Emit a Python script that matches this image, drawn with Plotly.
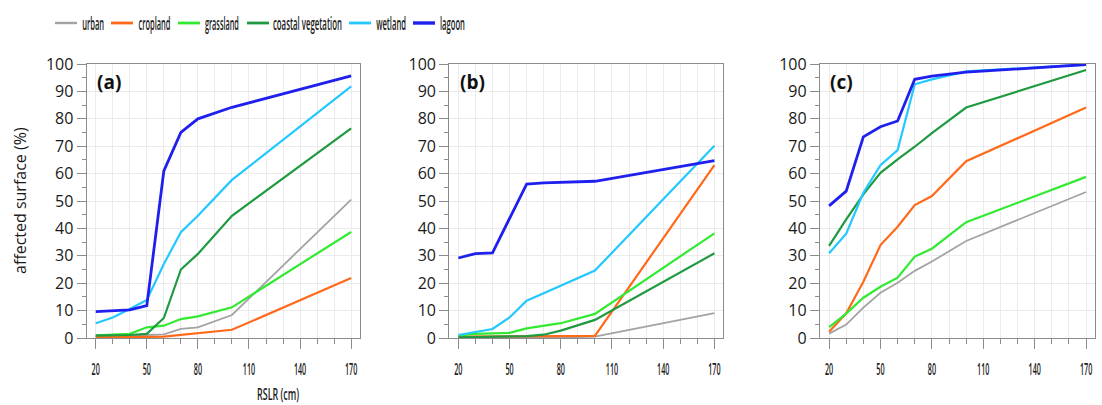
import json
import plotly.graph_objects as go

# RSLR scenarios (cm)
rslr = [20, 30, 40, 50, 60, 70, 80, 100, 170]

classes = ["urban", "cropland", "grassland", "coastal vegetation", "wetland", "lagoon"]
colors = ["#a3a3a3", "#ff6a1a", "#33ea33", "#1f9a40", "#22c8ff", "#2020ee"]
widths = [1.8, 2.2, 2.2, 2.2, 2.2, 2.8]

# affected surface (%) per land class, panel (a)
a_urban = [0.5, 0.6, 0.7, 1.1, 1.3, 3.3, 3.9, 8.4, 50.5]
a_cropland = [0.2, 0.2, 0.2, 0.4, 0.5, 1.1, 1.7, 3.0, 21.9]
a_grassland = [1.0, 1.2, 1.5, 3.9, 4.5, 6.9, 7.9, 11.2, 38.7]
a_coastal = [0.9, 1.0, 1.1, 1.5, 7.3, 25.0, 30.7, 44.6, 76.5]
a_wetland = [5.4, 7.5, 10.6, 13.9, 27.0, 38.6, 44.6, 57.7, 91.8]
a_lagoon = [9.6, 10.0, 10.3, 11.8, 61.0, 75.0, 80.0, 84.2, 95.7]

# panel (b)
b_urban = [0.2, 0.2, 0.2, 0.2, 0.2, 0.2, 0.2, 0.5, 9.1]
b_cropland = [0.5, 0.5, 0.5, 0.5, 0.5, 0.6, 0.7, 0.8, 63.1]
b_grassland = [0.9, 1.5, 1.7, 1.9, 3.5, 4.4, 5.4, 8.8, 38.2]
b_coastal = [0.2, 0.3, 0.4, 0.5, 0.7, 1.2, 2.7, 6.6, 30.9]
b_wetland = [1.1, 2.3, 3.3, 7.5, 13.6, 16.3, 19.1, 24.6, 70.2]
b_lagoon = [29.2, 30.8, 31.1, 43.7, 56.2, 56.6, 56.8, 57.2, 64.7]

# panel (c)
c_urban = [1.6, 4.9, 11.1, 16.5, 20.2, 24.5, 27.9, 35.4, 53.3]
c_cropland = [2.3, 9.0, 20.5, 33.9, 40.6, 48.5, 51.8, 64.5, 84.1]
c_grassland = [4.0, 8.9, 14.7, 18.7, 22.0, 29.7, 32.6, 42.3, 58.8]
c_coastal = [33.6, 43.3, 52.4, 60.3, 65.2, 69.8, 74.8, 84.1, 97.8]
c_wetland = [30.9, 38.1, 53.0, 63.1, 68.6, 92.6, 94.4, 97.3, 99.8]
c_lagoon = [48.2, 53.6, 73.4, 77.1, 79.2, 94.4, 95.6, 97.0, 99.8]

panels = [
    ("(a)", [a_urban, a_cropland, a_grassland, a_coastal, a_wetland, a_lagoon]),
    ("(b)", [b_urban, b_cropland, b_grassland, b_coastal, b_wetland, b_lagoon]),
    ("(c)", [c_urban, c_cropland, c_grassland, c_coastal, c_wetland, c_lagoon]),
]

W, H = 1102, 405
x_domains = [(86.7, 360.0), (449.3, 723.3), (820.0, 1095.0)]
y_top, y_bot = 64.0, 338.0

FRAME = "#8c8c8c"
GRID = "#ebebeb"
TXT = "#1a1a1a"
FONT = "Open Sans"
NARROW_WEIGHT = 600

fig = go.Figure()
annotations = []
for i, (tag, series) in enumerate(panels):
    xa = "x" if i == 0 else f"x{i+1}"
    ya = "y" if i == 0 else f"y{i+1}"
    for name, vals, col, lw in zip(classes, series, colors, widths):
        fig.add_trace(go.Scatter(
            x=rslr, y=vals, mode="lines", name=name,
            line=dict(color=col, width=lw),
            xaxis=xa, yaxis=ya, showlegend=False,
        ))
    d0, d1 = x_domains[i]
    xkey = "xaxis" if i == 0 else f"xaxis{i+1}"
    ykey = "yaxis" if i == 0 else f"yaxis{i+1}"
    fig.layout[xkey] = dict(
        domain=[d0 / W, d1 / W], anchor=ya, automargin=False,
        range=[14.7, 175.2], tick0=20, dtick=30,
        showline=True, linecolor=FRAME, linewidth=1.3, mirror=True,
        ticks="outside", ticklen=10, tickcolor=FRAME, tickwidth=1.3,
        showgrid=True, gridcolor=GRID, gridwidth=1,
        minor=dict(dtick=10, tick0=20, ticks="outside", ticklen=5,
                   tickcolor=FRAME, tickwidth=1.3, showgrid=True,
                   gridcolor=GRID, gridwidth=1),
        tickfont=dict(family=FONT, size=16, color=TXT, weight=NARROW_WEIGHT),
        ticklabelstandoff=7, zeroline=False,
    )
    fig.layout[ykey] = dict(
        domain=[1 - y_bot / H, 1 - y_top / H], anchor=xa, automargin=False,
        range=[0, 100], dtick=10,
        showline=True, linecolor=FRAME, linewidth=1.3, mirror=True,
        ticks="outside", ticklen=9, tickcolor=FRAME, tickwidth=1.3,
        showgrid=True, gridcolor=GRID, gridwidth=1,
        minor=dict(dtick=5, ticks="outside", ticklen=4,
                   tickcolor=FRAME, tickwidth=1.3, showgrid=False),
        tickfont=dict(family=FONT, size=16, color=TXT),
        zeroline=False,
    )
    annotations.append(dict(
        text=f"<b>{tag}</b>", xref=f"{xa} domain", yref=f"{ya} domain",
        x=0.03, y=0.935, xanchor="left", yanchor="middle", showarrow=False,
        font=dict(family=FONT, size=19, color="#111111"),
    ))

# axis titles
annotations.append(dict(
    text="RSLR (cm)", xref="paper", yref="paper",
    x=277.5 / W, y=1 - 393 / H,
    xanchor="center", yanchor="middle", showarrow=False,
    font=dict(family=FONT, size=17, color=TXT, weight=NARROW_WEIGHT),
))
annotations.append(dict(
    text="affected surface (%)", xref="paper", yref="paper",
    x=20 / W, y=1 - (y_top + y_bot) / 2 / H, textangle=-90,
    xanchor="center", yanchor="middle", showarrow=False,
    font=dict(family=FONT, size=16, color=TXT),
))

# legend row across the top: line sample start and label centre (px)
legend_y = 1 - 23 / H
legend_line_x = [55, 111, 178, 247, 349, 413]
legend_text_cx = [92.8, 154, 222, 307.5, 391, 452.5]
# condensed label widths (px) for the narrow lettering
condensed = {"urban": 22, "cropland": 32, "grassland": 34,
             "coastal vegetation": 69, "wetland": 30, "lagoon": 25,
             "RSLR (cm)": 42}
shapes = []
for name, col, lw, lx, tx in zip(classes, colors, widths, legend_line_x, legend_text_cx):
    shapes.append(dict(type="line", xref="paper", yref="paper",
                       x0=lx / W, x1=(lx + 22) / W, y0=legend_y, y1=legend_y,
                       line=dict(color=col, width=lw + 0.6)))
    annotations.append(dict(
        text=name, xref="paper", yref="paper", x=tx / W, y=legend_y,
        xanchor="center", yanchor="middle", showarrow=False,
        font=dict(family=FONT, size=18, color=TXT, weight=NARROW_WEIGHT),
    ))

fig.update_layout(
    template="none",
    width=W, height=H, margin=dict(l=0, r=0, t=0, b=0),
    paper_bgcolor="white", plot_bgcolor="white",
    annotations=annotations, shapes=shapes, showlegend=False,
)

# narrow lettering for the legend, x title and x tick labels:
# scale each text horizontally about its own centre
post = """
var gd = document.getElementById('{plot_id}');
var widths = %s;
function narrow(t, f) {
  var bb = t.getBBox();
  var c = bb.x + bb.width / 2;
  var prev = t.getAttribute('transform') || '';
  t.setAttribute('transform', prev + ' translate(' + c + ',0) scale(' + f +
                 ',1) translate(' + (-c) + ',0)');
}
gd.querySelectorAll('.annotation-text').forEach(function (t) {
  var s = t.textContent;
  if (widths.hasOwnProperty(s)) {
    narrow(t, widths[s] / t.getBBox().width);
  }
});
gd.querySelectorAll('g[class^="x"][class$="tick"] > text').forEach(function (t) {
  narrow(t, 0.45);
});
""" % json.dumps(condensed)

fig.write_html("out.html", post_script=post)
